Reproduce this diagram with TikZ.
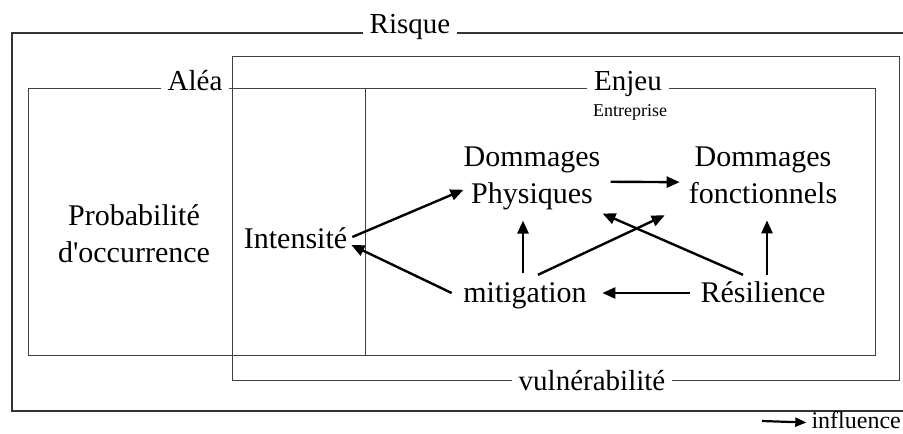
\documentclass[tikz,border=0pt]{standalone}
\usepackage{fontspec}
\setmainfont{Liberation Serif}
\usetikzlibrary{arrows.meta,calc}
\begin{document}
\begin{tikzpicture}[x=1pt,y=-1pt,
  box/.style={draw=black!75, line width=1pt},
  title/.style={fill=white, inner xsep=7pt, inner ysep=0pt, font=\fontsize{29}{34}\selectfont, text height=20pt, text depth=7pt, anchor=base},
  lbl/.style={inner sep=0pt, font=\fontsize{30}{37}\selectfont, text height=20pt, text depth=7pt, anchor=base},
  lbl2/.style={inner sep=0pt, font=\fontsize{30}{37}\selectfont, align=center, anchor=north},
  arr/.style={line width=2.4pt, -{Triangle[length=13pt,width=11pt]}}]
\useasboundingbox (0,0) rectangle (903,434);
% frames
\draw[line width=1.3pt, draw=black!80] (903,33) -- (12,33) -- (12,411) -- (903,411);
\draw[box] (232,56) rectangle (899,380);
\draw[box] (28,88) rectangle (365,355);
\draw[box] (232,88) rectangle (875,355);
% frame titles
\node[title] (risque) at (410,33) {Risque};
\node[title] (alea) at (195,90) {Aléa};
\node[title] (enjeu) at (628,90) {Enjeu};
\node[inner sep=1pt, font=\fontsize{18}{20}\selectfont, anchor=base] (entr) at (630,116) {Entreprise};
\node[title] (vuln) at (592,390) {vulnérabilité};
% concepts
\node[lbl2] (prob) at (134,204) {Probabilité\\d\textquotesingle occurrence};
\node[lbl] (intens) at (295.5,248) {Intensité};
\node[lbl2] (dp) at (532,147) {Dommages\\Physiques};
\node[lbl2] (df) at (763,147) {Dommages\\fonctionnels};
\node[lbl] (mit) at (525,302) {mitigation};
\node[lbl] (res) at (763,302) {Résilience};
% influences
\draw[arr] ($(intens.east)+(5,-4.5)$) -- ($(dp.west)+(0,11)$);
\draw[arr] ($(dp.east)+(10,3)$) -- ($(df.west)+(-9,6.5)$);
\draw[arr] ($(mit.north)+(-2,-9)$) -- ($(dp.south)+(-9,10)$);
\draw[arr] ($(mit.north)+(13,-7)$) -- ($(df.south west)+(-24,11)$);
\draw[arr] ($(res.north)+(-20,-7)$) -- ($(dp.south east)+(2,3)$);
\draw[arr] ($(res.north)+(4,-7)$) -- ($(df.south)+(4,16)$);
\draw[arr] ($(res.west)+(-10.5,-2.5)$) -- ($(mit.east)+(15.5,-2.5)$);
\draw[arr] ($(mit.west)+(-11.5,-2.5)$) -- ($(intens.east)+(4,3.5)$);
% legend
\node[inner sep=0pt, font=\fontsize{24}{28}\selectfont, text height=16pt, text depth=5pt, anchor=base east] (infl) at (901,428) {influence};
\coordinate (inflstart) at (762,421);
\draw[line width=2.2pt, -{Triangle[length=11pt,width=9pt]}] (inflstart) -- ($(infl.west)+(-5,0)$);
\end{tikzpicture}
\end{document}
